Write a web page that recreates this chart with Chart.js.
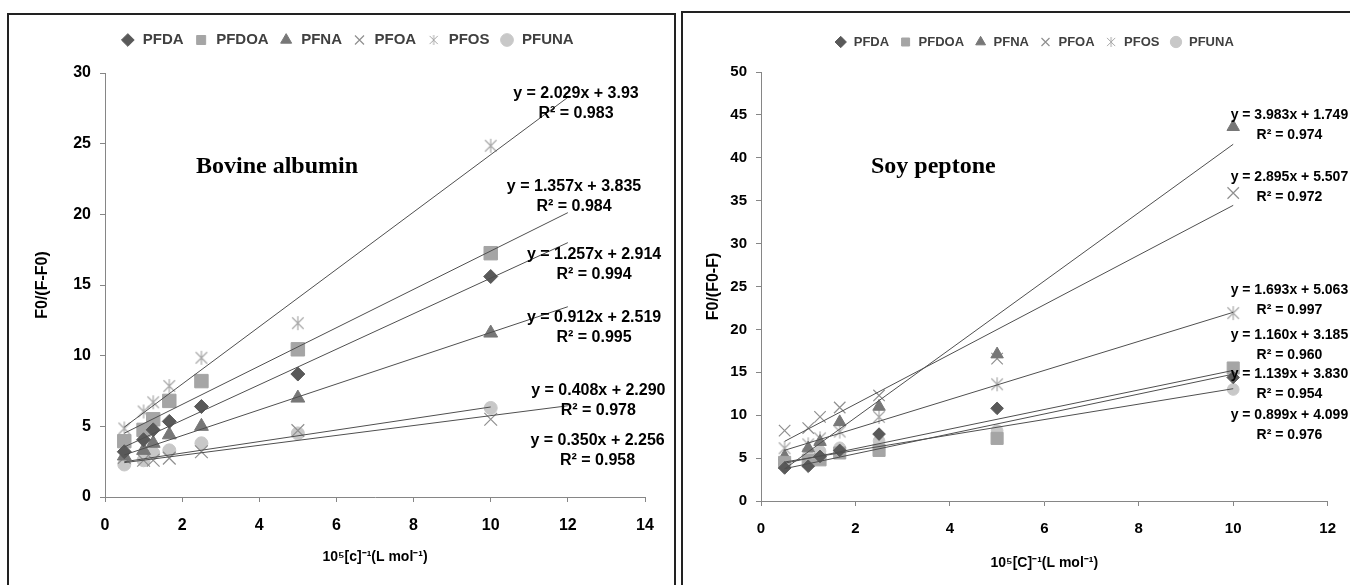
<!DOCTYPE html>
<html>
<head>
<meta charset="utf-8">
<script src="https://cdn.jsdelivr.net/npm/chart.js@4.4.1/dist/chart.umd.min.js"></script>
<style>
  body { margin: 0; background: #fff; width: 1350px; height: 585px; overflow: hidden; position: relative; }
  .box { position: absolute; border: 2px solid #222; box-sizing: border-box; }
  #boxL { left: 7px; top: 13px; width: 669px; height: 620px; }
  #boxR { left: 681px; top: 11px; width: 720px; height: 620px; }
  canvas { position: absolute; }
  #bovine { left: 10px; top: 15px; }
  #soy { left: 684px; top: 13px; }
</style>
</head>
<body>
<div class="box" id="boxL"></div>
<div class="box" id="boxR"></div>
<canvas id="bovine" width="663" height="570"></canvas>
<canvas id="soy" width="666" height="572"></canvas>
<script>
// 1/[c] values, same for every series
const xVals = [0.5, 1, 1.25, 1.667, 2.5, 5, 10];
const seriesNames = ['PFDA', 'PFDOA', 'PFNA', 'PFOA', 'PFOS', 'PFUNA'];

// Bovine albumin
const bovPFDA  = [3.2, 4.05, 4.75, 5.35, 6.4, 8.7, 15.6];
const bovPFDOA = [3.95, 4.75, 5.5, 6.8, 8.2, 10.45, 17.25];
const bovPFNA  = [2.9, 3.3, 3.8, 4.4, 5.0, 7.0, 11.6];
const bovPFOA  = [2.8, 2.6, 2.6, 2.75, 3.2, 4.7, 5.5];
const bovPFOS  = [4.85, 6.05, 6.7, 7.85, 9.85, 12.3, 24.85];
const bovPFUNA = [2.3, 2.6, 3.1, 3.3, 3.8, 4.5, 6.3];
const bovSlope     = [1.257, 1.357, 0.912, 0.350, 2.029, 0.408];
const bovIntercept = [2.914, 3.835, 2.519, 2.256, 3.93, 2.290];
const bovFitTo     = [12, 12, 12, 12, 12, 10];
const bovEq = ['y = 1.257x + 2.914', 'y = 1.357x + 3.835', 'y = 0.912x + 2.519',
               'y = 0.350x + 2.256', 'y = 2.029x + 3.93', 'y = 0.408x + 2.290'];
const bovR2 = ['R² = 0.994', 'R² = 0.984', 'R² = 0.995', 'R² = 0.958', 'R² = 0.983', 'R² = 0.978'];

// Soy peptone
const soyPFDA  = [3.85, 4.05, 5.2, 5.9, 7.8, 10.8, 14.4];
const soyPFDOA = [4.5, 4.7, 4.8, 5.6, 5.9, 7.3, 15.5];
const soyPFNA  = [5.2, 6.15, 6.9, 9.2, 11.0, 17.1, 43.6];
const soyPFOA  = [8.2, 8.5, 9.8, 10.9, 12.3, 16.6, 35.9];
const soyPFOS  = [6.15, 6.6, 7.3, 8.1, 9.8, 13.6, 21.9];
const soyPFUNA = [4.3, 5.2, 5.8, 6.2, 7.0, 8.2, 13.0];
const soySlope     = [1.139, 1.160, 3.983, 2.895, 1.693, 0.899];
const soyIntercept = [3.830, 3.185, 1.749, 5.507, 5.063, 4.099];
const soyFitTo     = [10, 10, 10, 10, 10, 10];
const soyEq = ['y = 1.139x + 3.830', 'y = 1.160x + 3.185', 'y = 3.983x + 1.749',
               'y = 2.895x + 5.507', 'y = 1.693x + 5.063', 'y = 0.899x + 4.099'];
const soyR2 = ['R² = 0.954', 'R² = 0.960', 'R² = 0.974', 'R² = 0.972', 'R² = 0.997', 'R² = 0.976'];

const FONT = "'Liberation Sans', Arial, sans-serif";

function asterisk(size, color, lw) {
  const c = document.createElement('canvas');
  c.width = c.height = size;
  const g = c.getContext('2d');
  g.strokeStyle = color;
  g.lineWidth = lw;
  const m = size / 2, r = size / 2 - 1, d = r * 0.82;
  g.beginPath();
  g.moveTo(m - d, m - d); g.lineTo(m + d, m + d);
  g.moveTo(m + d, m - d); g.lineTo(m - d, m + d);
  g.moveTo(m, m - r); g.lineTo(m, m + r);
  g.stroke();
  return c;
}

const markers = [
  { style: 'rectRot', r: 7, bg: '#595959', bd: '#595959', bw: 1 },
  { style: 'rect', r: 9.5, bg: '#a5a5a5', bd: '#a5a5a5', bw: 1 },
  { style: 'triangle', r: 8, bg: '#777777', bd: '#777777', bw: 1 },
  { style: 'crossRot', r: 9, bg: '#8f8f8f', bd: '#8f8f8f', bw: 1.2 },
  { style: asterisk(16, '#a8a8a8', 1.2), small: asterisk(12, '#a8a8a8', 1), r: 8, bg: '#a8a8a8', bd: '#a8a8a8', bw: 1 },
  { style: 'circle', r: 6.5, bg: '#c8c8c8', bd: '#c8c8c8', bw: 1 }
];

const eqLabels = {
  id: 'eqLabels',
  afterDatasetsDraw(chart, args, o) {
    const { ctx } = chart;
    const x = chart.scales.x, y = chart.scales.y;
    ctx.save();
    ctx.fillStyle = '#000';
    ctx.textAlign = 'center';
    ctx.textBaseline = 'middle';
    ctx.font = 'bold ' + o.size + 'px ' + FONT;
    o.items.forEach(it => {
      const px = x.getPixelForValue(it.at[0]), py = y.getPixelForValue(it.at[1]);
      ctx.fillText(it.eq, px, py);
      ctx.fillText(it.r2, px, py + 20);
    });
    ctx.font = "bold 24px 'Liberation Serif', 'Times New Roman', serif";
    ctx.fillText(o.title, x.getPixelForValue(o.titleAt[0]), y.getPixelForValue(o.titleAt[1]));
    ctx.restore();
  }
};

function build(id, p) {
  const datasets = [];
  p.series.forEach((vals, i) => {
    const m = markers[i];
    datasets.push({
      label: seriesNames[i],
      data: xVals.map((x, k) => ({ x: x, y: vals[k] })),
      pointStyle: m.style,
      pointRadius: m.r * p.mScale,
      backgroundColor: m.bg,
      borderColor: m.bd,
      borderWidth: m.bw,
      showLine: false,
      order: 1
    });
  });
  p.slope.forEach((s, i) => {
    datasets.push({
      label: '',
      isTrend: true,
      data: [{ x: xVals[0], y: s * xVals[0] + p.intercept[i] },
             { x: p.fitTo[i], y: s * p.fitTo[i] + p.intercept[i] }],
      showLine: true,
      pointRadius: 0,
      borderColor: '#4f4f4f',
      borderWidth: 1,
      order: 0
    });
  });

  const tickFont = { family: FONT, size: p.tickSize, weight: 'bold' };
  const titleFont = { family: FONT, size: 14, weight: 'bold' };

  new Chart(document.getElementById(id), {
    type: 'scatter',
    data: { datasets: datasets },
    options: {
      responsive: false,
      animation: false,
      events: [],
      layout: { padding: { left: p.padLeft, right: 0, top: p.padTop, bottom: 0 } },
      plugins: {
        tooltip: { enabled: false },
        legend: {
          position: 'top',
          labels: {
            usePointStyle: true,
            boxHeight: p.legendBox,
            padding: 10,
            color: '#404040',
            font: { family: FONT, size: p.legendSize, weight: 'bold' },
            generateLabels(chart) {
              const items = Chart.defaults.plugins.legend.labels.generateLabels(chart);
              items.forEach(it => {
                const m = markers[it.datasetIndex];
                if (m && m.small) it.pointStyle = m.small;
              });
              return items;
            },
            filter: (item, data) => !data.datasets[item.datasetIndex].isTrend
          }
        },
        eqLabels: {
          size: p.eqSize,
          items: p.eq.map((t, i) => ({ eq: t, r2: p.r2[i], at: p.eqAt[i] })),
          title: p.title,
          titleAt: p.titleAt
        }
      },
      scales: {
        x: {
          type: 'linear', min: 0, max: p.xMax,
          ticks: { stepSize: 2, padding: 14, color: '#000', font: tickFont },
          grid: { display: true, drawOnChartArea: false, tickLength: 5, color: '#868686' },
          border: { color: '#868686' },
          title: { display: true, text: p.xTitle, color: '#000', font: titleFont, padding: { top: 0, bottom: p.xTitlePad } },
          afterFit: s => { s.height = p.xHeight; }
        },
        y: {
          type: 'linear', min: 0, max: p.yMax,
          ticks: { stepSize: 5, padding: 9, color: '#000', font: tickFont },
          grid: { display: true, drawOnChartArea: false, tickLength: 5, color: '#868686' },
          border: { color: '#868686' },
          title: { display: true, text: p.yTitle, color: '#000', font: { family: FONT, size: 16, weight: 'bold' }, padding: { top: p.yTitlePad, bottom: 0 } },
          afterFit: s => { s.width = p.yWidth; }
        },
        padTop: {
          type: 'linear', axis: 'x', position: 'top', display: true,
          ticks: { display: false }, grid: { display: false }, border: { display: false },
          afterFit: s => { s.height = p.topGap; }
        },
        padRight: {
          type: 'linear', axis: 'y', position: 'right', display: true,
          ticks: { display: false }, grid: { display: false }, border: { display: false },
          afterFit: s => { s.width = p.rightGap; }
        }
      }
    },
    plugins: [eqLabels]
  });
}

build('bovine', {
  series: [bovPFDA, bovPFDOA, bovPFNA, bovPFOA, bovPFOS, bovPFUNA],
  slope: bovSlope, intercept: bovIntercept, fitTo: bovFitTo,
  eq: bovEq, r2: bovR2,
  eqAt: [[12.68, 17.13], [12.16, 21.94], [12.68, 12.67], [12.77, 3.96], [12.21, 28.52], [12.79, 7.50]],
  title: 'Bovine albumin', titleAt: [4.46, 23.35],
  xMax: 14, yMax: 30,
  xTitle: '10⁵[c]⁻¹(L mol⁻¹)', yTitle: 'F0/(F-F0)',
  padLeft: 11, padTop: 7.5, topGap: 15.5, rightGap: 28,
  yWidth: 84, xHeight: 88, xTitlePad: 19.6, yTitlePad: 12,
  tickSize: 16, legendSize: 15, legendBox: 9, eqSize: 16, mScale: 1
});

build('soy', {
  series: [soyPFDA, soyPFDOA, soyPFNA, soyPFOA, soyPFOS, soyPFUNA],
  slope: soySlope, intercept: soyIntercept, fitTo: soyFitTo,
  eq: soyEq, r2: soyR2,
  eqAt: [[11.19, 14.80], [11.19, 19.35], [11.19, 44.99], [11.19, 37.76], [11.19, 24.59], [11.19, 10.02]],
  title: 'Soy peptone', titleAt: [3.65, 38.9],
  xMax: 12, yMax: 50,
  xTitle: '10⁵[C]⁻¹(L mol⁻¹)', yTitle: 'F0/(F0-F)',
  padLeft: 34, padTop: 12.5, topGap: 13.5, rightGap: 20,
  yWidth: 43, xHeight: 84, xTitlePad: 13.6, yTitlePad: -14,
  tickSize: 15, legendSize: 13, legendBox: 8, eqSize: 14, mScale: 0.9
});
</script>
</body>
</html>
